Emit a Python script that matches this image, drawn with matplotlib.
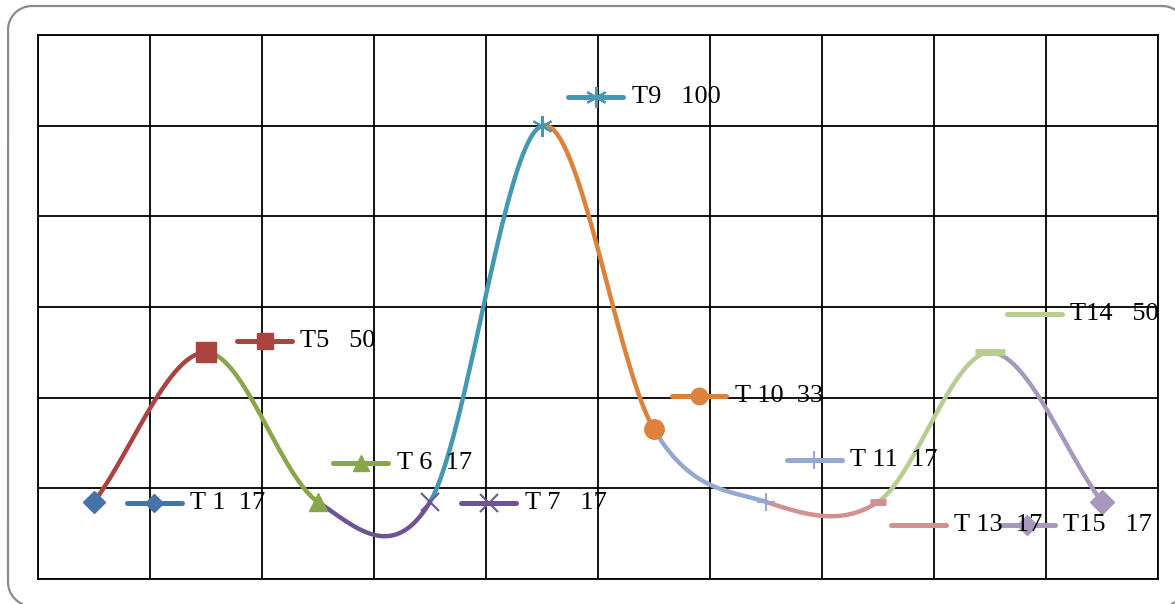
import numpy as np
import matplotlib.pyplot as plt
from matplotlib.lines import Line2D
from matplotlib.transforms import IdentityTransform

labels = ['T 1', 'T5', 'T 6', 'T 7', 'T9', 'T 10', 'T 11', 'T 13', 'T14', 'T15']
values = [17, 50, 17, 17, 100, 33, 17, 17, 50, 17]
gaps = ['  ', '   ', '  ', '   ', '   ', '  ', '  ', '  ', '   ', '   ']
colors = ['#4673A8', '#A9443F', '#89A64B', '#6E5494', '#4399B2',
          '#DC823B', '#93A9D0', '#D29090', '#B7CD93', '#A898BE']
markers = ['D', 's', '^', 'x', (6, 2, 0), 'o', '+', '_', '_', 'D']
msizes = [11, 14, 13, 13, 15, 14, 13, 12, 22, 12]

# where each series' key sits (axes fraction, left end of the sample line)
key_x = [0.0795, 0.1778, 0.2636, 0.378, 0.4736, 0.5657, 0.6685, 0.7614, 0.865, 0.8588]
key_y = [0.1397, 0.4375, 0.2132, 0.1397, 0.886, 0.3364, 0.2188, 0.0993, 0.4871, 0.0993]
key_marker = [True, True, True, True, True, True, True, False, False, True]

W, H = 1175, 604
fig = plt.figure(figsize=(W / 100, H / 100), dpi=100)

# rounded frame, in pixels; the parts that fall off the canvas are dropped
left, right, bottom, top, r = 8, 1186, -2, 598, 24
bx, by = [], []
for cx, cy, a0, a1 in [(right - r, top - r, 90, 0), (right - r, bottom + r, 0, -90),
                       (left + r, bottom + r, -90, -180), (left + r, top - r, 180, 90)]:
    a = np.radians(np.linspace(a0, a1, 40))
    bx.extend(cx + r * np.cos(a))
    by.extend(cy + r * np.sin(a))
bx.append(bx[0])
by.append(by[0])
bx, by = np.array(bx), np.array(by)
off = (bx > W) | (by < 0)
bx[off] = np.nan
by[off] = np.nan
fig.add_artist(Line2D(bx, by, transform=IdentityTransform(), color='#8a8a8a',
                      lw=1.6, zorder=-1))

ax = fig.add_axes([38 / W, 25 / H, 1120 / W, 544 / H])

x = np.arange(len(values))
y = np.array(values, dtype=float)

# Catmull-Rom tangents for a smoothed line
tang = np.zeros_like(y)
tang[1:-1] = (y[2:] - y[:-2]) / 2
tang[0] = y[1] - y[0]
tang[-1] = y[-1] - y[-2]

t = np.linspace(0, 1, 60)
h00 = 2 * t**3 - 3 * t**2 + 1
h10 = t**3 - 2 * t**2 + t
h01 = -2 * t**3 + 3 * t**2
h11 = t**3 - t**2

for i in range(1, len(values)):
    seg = h00 * y[i - 1] + h10 * tang[i - 1] + h01 * y[i] + h11 * tang[i]
    ax.plot(x[i - 1] + t, seg, color=colors[i], lw=3.2,
            solid_capstyle='butt', zorder=3)

for i in range(len(values)):
    thin = markers[i] in ('x', '+', (6, 2, 0))
    ax.plot(x[i], y[i], linestyle='none', marker=markers[i], ms=msizes[i],
            color=colors[i], mew=1.5 if thin else (5 if markers[i] == '_' else 1),
            zorder=4)

for i in range(len(values)):
    kx, ky = key_x[i], key_y[i]
    ax.plot([kx, kx + 0.049], [ky, ky], transform=ax.transAxes, color=colors[i],
            lw=3.6, solid_capstyle='round', zorder=5)
    if key_marker[i]:
        thin = markers[i] in ('x', '+', (6, 2, 0))
        ax.plot(kx + 0.0245, ky, transform=ax.transAxes, marker=markers[i],
                ms=msizes[i] * (1.0 if thin else 0.85), color=colors[i],
                mew=1.5 if thin else 1, linestyle='none', zorder=5)
    ax.text(kx + 0.0565, ky, f'{labels[i]}{gaps[i]}{values[i]}',
            transform=ax.transAxes, va='center', ha='left', fontsize=19,
            family='Liberation Serif', color='black', zorder=6)

ax.set_xlim(-0.5, 9.5)
ax.set_ylim(0, 120)
ax.set_xticks(np.arange(-0.5, 10, 1))
ax.set_yticks(np.arange(0, 121, 20))
ax.grid(True, color='black', lw=1.3)
ax.tick_params(length=0, labelbottom=False, labelleft=False)
for s in ax.spines.values():
    s.set_color('black')
    s.set_linewidth(1.3)

fig.savefig('out.png', dpi=100)
